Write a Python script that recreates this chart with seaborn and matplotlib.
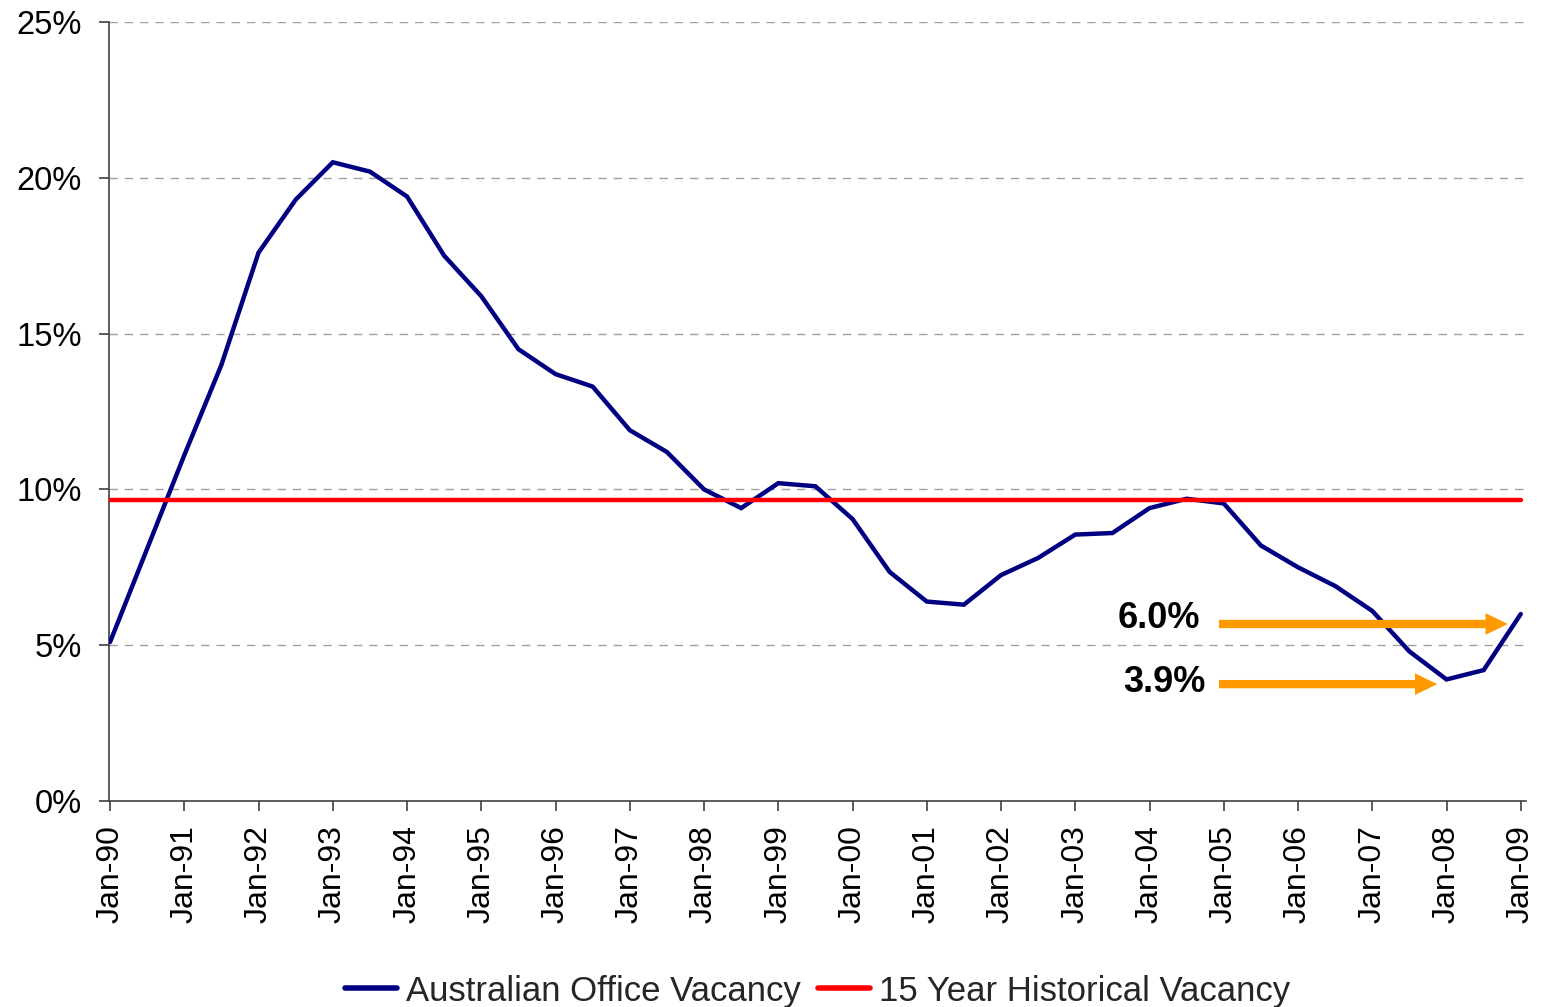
import numpy as np
import pandas as pd
import matplotlib
matplotlib.use("Agg")
import matplotlib.pyplot as plt
import seaborn as sns

# ---- data (semi-annual, Jan-90 .. Jan-09) ----
periods = ["Jan-90", "Jul-90", "Jan-91", "Jul-91", "Jan-92", "Jul-92", "Jan-93", "Jul-93",
           "Jan-94", "Jul-94", "Jan-95", "Jul-95", "Jan-96", "Jul-96", "Jan-97", "Jul-97",
           "Jan-98", "Jul-98", "Jan-99", "Jul-99", "Jan-00", "Jul-00", "Jan-01", "Jul-01",
           "Jan-02", "Jul-02", "Jan-03", "Jul-03", "Jan-04", "Jul-04", "Jan-05", "Jul-05",
           "Jan-06", "Jul-06", "Jan-07", "Jul-07", "Jan-08", "Jul-08", "Jan-09"]
vacancy = [5.1, 8.1, 11.1, 14.0, 17.6, 19.3, 20.5, 20.2,
           19.4, 17.5, 16.2, 14.5, 13.7, 13.3, 11.9, 11.2,
           10.0, 9.4, 10.2, 10.1, 9.05, 7.35, 6.4, 6.3,
           7.25, 7.8, 8.55, 8.6, 9.4, 9.7, 9.55, 8.2,
           7.5, 6.9, 6.1, 4.8, 3.9, 4.2, 6.0]
historical_avg = 9.66
tick_labels = [p for p in periods if p.startswith("Jan")]
yticks = [0, 5, 10, 15, 20, 25]
annot_labels = ["6.0%", "3.9%"]

series_names = ["Australian Office Vacancy", "15 Year Historical Vacancy"]

idx = np.arange(len(periods))
df = pd.DataFrame({
    "x": np.concatenate([idx, idx]),
    "value": vacancy + [historical_avg] * len(periods),
    "series": [series_names[0]] * len(periods) + [series_names[1]] * len(periods),
})

sns.set_theme(style="white")
plt.rcParams["font.family"] = ["Liberation Sans", "DejaVu Sans"]

fig = plt.figure(figsize=(15.41, 10.07), dpi=100)
ax = fig.add_axes([0.0707, 0.2046, 0.9193, 0.7735])

# grid
for y in yticks[1:]:
    ax.axhline(y, color="#a0a0a0", lw=1.0, ls=(0, (6, 5)), zorder=0)

sns.lineplot(data=df, x="x", y="value", hue="series", hue_order=series_names,
             palette={series_names[0]: "#000080", series_names[1]: "#FF0000"},
             ax=ax, linewidth=3.2, legend=True, zorder=3)
for ln in ax.get_lines():
    ln.set_solid_joinstyle("miter")

ax.set_xlim(-0.03, 38.13)
ax.set_ylim(0, 25)
ax.set_yticks(yticks)
ax.set_yticklabels([f"{v}%" for v in yticks], fontsize=23.5)
ax.set_xticks(idx[::2])
ax.set_xticklabels(tick_labels, rotation=90, fontsize=23)
ax.set_xlabel("")
ax.set_ylabel("")

for s in ["top", "right"]:
    ax.spines[s].set_visible(False)
for s in ["left", "bottom"]:
    ax.spines[s].set_color("#404040")
    ax.spines[s].set_linewidth(1.2)
ax.tick_params(axis="both", which="major", direction="out", length=7.5, width=1.2,
               color="#404040", labelcolor="black", left=True, bottom=True)
ax.tick_params(axis="x", pad=10)
ax.tick_params(axis="y", pad=12)

# annotations with arrows
arrow_style = dict(arrowstyle="simple,head_length=0.8,head_width=0.78,tail_width=0.3",
                   fc="#FF9900", ec="none", mutation_scale=20, shrinkA=0, shrinkB=0)
ax.annotate("", xy=(37.65, 5.68), xytext=(29.87, 5.68), arrowprops=arrow_style, zorder=4)
ax.annotate("", xy=(35.75, 3.75), xytext=(29.87, 3.75), arrowprops=arrow_style, zorder=4)
ax.text(29.35, 5.85, annot_labels[0], ha="right", va="center", fontsize=26,
        fontweight="bold", color="black")
ax.text(29.5, 3.8, annot_labels[1], ha="right", va="center", fontsize=26,
        fontweight="bold", color="black")

leg = ax.legend(loc="lower center", bbox_to_anchor=(0.5, -0.283), ncol=2, frameon=False,
                fontsize=25, handlelength=1.5, handletextpad=0.25, columnspacing=0.5,
                borderaxespad=0)
for h in leg.get_lines():
    h.set_linewidth(4)

fig.savefig("out.png", dpi=100, facecolor="white")
